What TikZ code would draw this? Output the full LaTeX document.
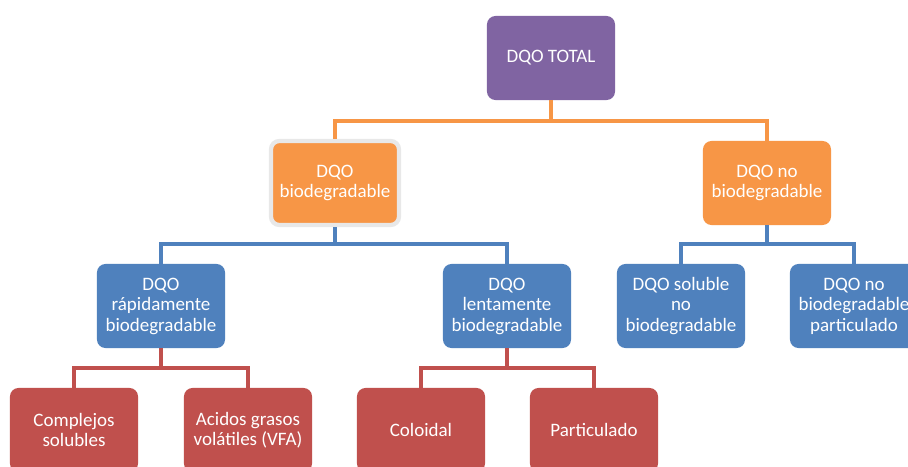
\documentclass[tikz,border=0pt]{standalone}
\usepackage{fontspec}
\setmainfont{Carlito}
\definecolor{morado}{HTML}{8064A2}
\definecolor{naranja}{HTML}{F79646}
\definecolor{azul}{HTML}{4F81BD}
\definecolor{rojo}{HTML}{C0504D}
\begin{document}
\begin{tikzpicture}[
    x=0.025cm, y=-0.025cm,
    every node/.style={font=\fontsize{13.5}{14.6}\selectfont, align=center, text=white},
    caja/.style={rounded corners=6pt, minimum width=3.2cm, minimum height=2.1cm, inner sep=2pt},
    raiz/.style={caja, fill=morado},
    nivel/.style={caja, fill=naranja},
    sub/.style={caja, fill=azul},
    hoja/.style={caja, fill=rojo},
    rama/.style={line width=2.6pt}
]
    \useasboundingbox[fill=white] (0,0) rectangle (908,467);

    \node[raiz]  (total) at (551, 58)  {DQO TOTAL};

    \node[nivel, draw=gray!18, line width=3pt] (bio)   at (335, 183) {DQO\\biodegradable};
    \node[nivel] (nobio) at (767, 183) {DQO no\\biodegradable};

    \node[sub]   (rapida) at (161, 306) {DQO\\rápidamente\\biodegradable};
    \node[sub]   (lenta)  at (507, 306) {DQO\\lentamente\\biodegradable};
    \node[sub]   (solnb)  at (681, 306) {DQO soluble\\no\\biodegradable};
    \node[sub]   (partnb) at (854, 306) {DQO no\\biodegradable\\particulado};

    \node[hoja]  (compl)  at (74, 430)  {Complejos\\solubles};
    \node[hoja]  (vfa)    at (248, 430) {Acidos grasos\\volátiles (VFA)};
    \node[hoja]  (colo)   at (421, 430) {Coloidal};
    \node[hoja]  (part)   at (594, 430) {Particulado};

    % Ramas
    \draw[rama, naranja] (total.south) -- ++(0,21) -| (bio.north);
    \draw[rama, naranja] (total.south) -- ++(0,21) -| (nobio.north);
    \draw[rama, azul] (bio.south) -- ++(0,17) -| (rapida.north);
    \draw[rama, azul] (bio.south) -- ++(0,17) -| (lenta.north);
    \draw[rama, azul] (nobio.south) -- ++(0,19) -| (solnb.north);
    \draw[rama, azul] (nobio.south) -- ++(0,19) -| (partnb.north);
    \draw[rama, rojo] (rapida.south) -- ++(0,20) -| (compl.north);
    \draw[rama, rojo] (rapida.south) -- ++(0,20) -| (vfa.north);
    \draw[rama, rojo] (lenta.south) -- ++(0,20) -| (colo.north);
    \draw[rama, rojo] (lenta.south) -- ++(0,20) -| (part.north);
\end{tikzpicture}
\end{document}
